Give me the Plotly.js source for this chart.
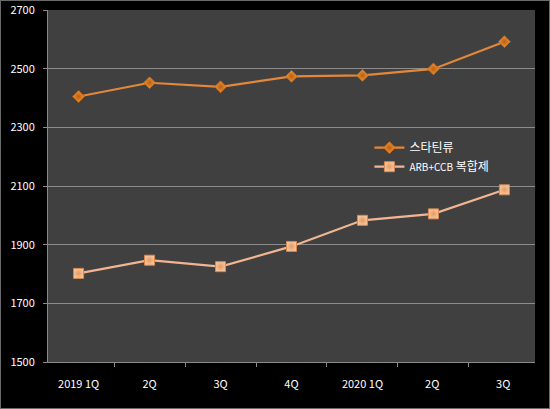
<!DOCTYPE html>
<html>
<head>
<meta charset="utf-8">
<script src="https://cdn.plot.ly/plotly-3.0.1.min.js"></script>
<style>
  html, body { margin: 0; padding: 0; background: #000; }
  #chart { width: 550px; height: 409px; }
  #frame { position: absolute; left: 0; top: 0; width: 548px; height: 407px; border: 1px solid #6a6a6a; pointer-events: none; }
</style>
</head>
<body>
<div id="chart"></div>
<div id="frame"></div>
<script>
// Quarterly prescription figures for two drug classes
const quarters = ["2019 1Q", "2Q", "3Q", "4Q", "2020 1Q", "2Q ", "3Q "];
const statinName = "스타틴류";
const statinValues = [2405, 2452, 2438, 2474, 2477, 2499, 2592];
const comboName = "<span style='font-size:10px'>ARB+CCB</span> 복합제";
const comboValues = [1802, 1847, 1825, 1894, 1983, 2005, 2087];
const yTicks = [1500, 1700, 1900, 2100, 2300, 2500, 2700];

const font = "'Noto Sans CJK KR', 'Noto Sans', sans-serif";

const traces = [
  {
    x: quarters, y: statinValues, name: statinName,
    type: "scatter", mode: "lines+markers",
    line: { color: "#E3873A", width: 2.2 },
    marker: { symbol: "diamond", size: 9, color: "#F0962E",
              line: { color: "#C86A1E", width: 1 },
              gradient: { type: "radial", color: "#B85E18" } }
  },
  {
    x: quarters, y: comboValues, name: comboName,
    type: "scatter", mode: "lines+markers",
    line: { color: "#F2B591", width: 2.2 },
    marker: { symbol: "square", size: 10, color: "#F7C49B",
              line: { color: "#D9884E", width: 1 },
              gradient: { type: "radial", color: "#E39A63" } }
  }
];

const layout = {
  width: 550, height: 409,
  paper_bgcolor: "#000000",
  plot_bgcolor: "#404040",
  margin: { l: 48, r: 15, t: 10, b: 47 },
  font: { family: font, color: "#ffffff", size: 11 },
  showlegend: true,
  legend: {
    x: 0.66, y: 0.65, xanchor: "left", yanchor: "top",
    bgcolor: "rgba(0,0,0,0)", font: { size: 12, color: "#ffffff" },
    tracegroupgap: 8, itemwidth: 30
  },
  xaxis: {
    type: "category",
    tickson: "boundaries",
    ticks: "outside", ticklen: 4, tickcolor: "#8a8a8a",
    showline: true, linecolor: "#8a8a8a", linewidth: 1,
    showgrid: false, zeroline: false,
    tickfont: { size: 11, color: "#ffffff" },
    ticklabelstandoff: 12,
    fixedrange: true
  },
  yaxis: {
    range: [1500, 2700],
    tickvals: yTicks,
    ticks: "outside", ticklen: 4, tickcolor: "#8a8a8a",
    showline: true, linecolor: "#8a8a8a", linewidth: 1,
    showgrid: true, gridcolor: "#8c8c8c", gridwidth: 1,
    zeroline: false,
    tickfont: { size: 11, color: "#ffffff" },
    ticklabelstandoff: 6,
    fixedrange: true
  }
};

Plotly.newPlot("chart", traces, layout, { displayModeBar: false, staticPlot: true });
</script>
</body>
</html>
